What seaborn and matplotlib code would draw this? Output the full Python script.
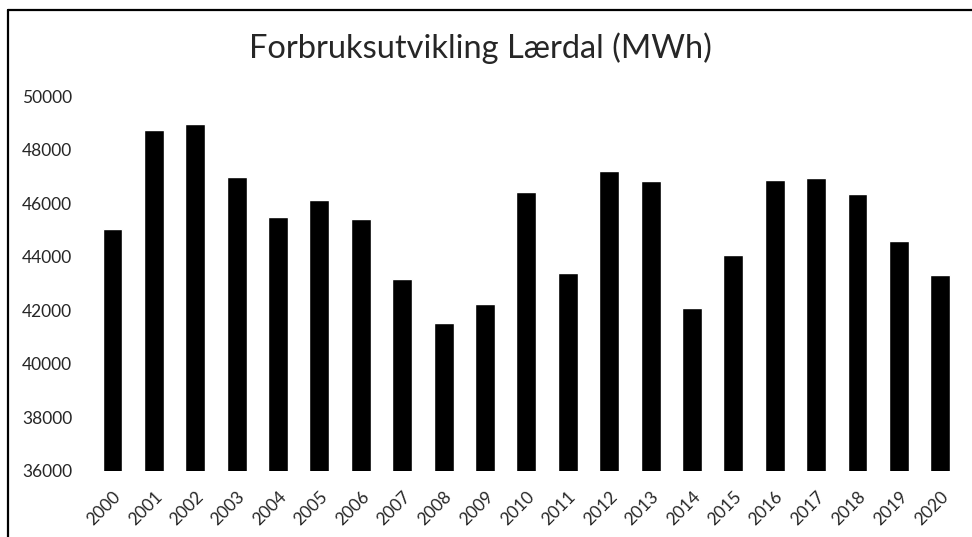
import matplotlib
matplotlib.use("Agg")
import matplotlib.pyplot as plt
import seaborn as sns
import pandas as pd
from matplotlib.lines import Line2D

# Data
years = [str(y) for y in range(2000, 2021)]
consumption = [45040, 48740, 48950, 46980, 45490, 46110, 45400, 43160, 41500, 42220,
               46410, 43380, 47190, 46810, 42090, 44060, 46860, 46920, 46320, 44600, 43320]

df = pd.DataFrame({"year": years, "mwh": consumption})

sns.set_style("white")
plt.rcParams['font.family'] = ['Lato', 'DejaVu Sans']

fig = plt.figure(figsize=(9.72, 5.37), dpi=100)
ax = fig.add_axes([0.0944, 0.1235, 0.8943, 0.6977])

sns.barplot(data=df, x="year", y="mwh", color="black", width=0.48,
            saturation=1, ax=ax)

ax.set_ylim(36000, 50000)
ax.set_yticks(range(36000, 50001, 2000))
ax.set_xlim(-0.5, len(years) - 0.5)
ax.set_xlabel("")
ax.set_ylabel("")
for s in ax.spines.values():
    s.set_visible(False)

ax.tick_params(axis="y", labelsize=12.5, length=0, pad=14)
ax.tick_params(axis="x", labelsize=12.5, length=0, pad=13)
plt.setp(ax.get_xticklabels(), rotation=45, ha="right", rotation_mode="anchor")

fig.text(0.494, 0.91, "Forbruksutvikling Lærdal (MWh)", ha="center", va="center",
         fontsize=23.5)

# frame lines at left and top of the picture
fig.add_artist(Line2D([8 / 972, 8 / 972], [0, 1 - 9.5 / 537], color="black", lw=1.6,
                      transform=fig.transFigure))
fig.add_artist(Line2D([8 / 972, 1], [1 - 9.5 / 537, 1 - 9.5 / 537], color="black", lw=1.6,
                      transform=fig.transFigure))

plt.savefig("out.png", dpi=100)
